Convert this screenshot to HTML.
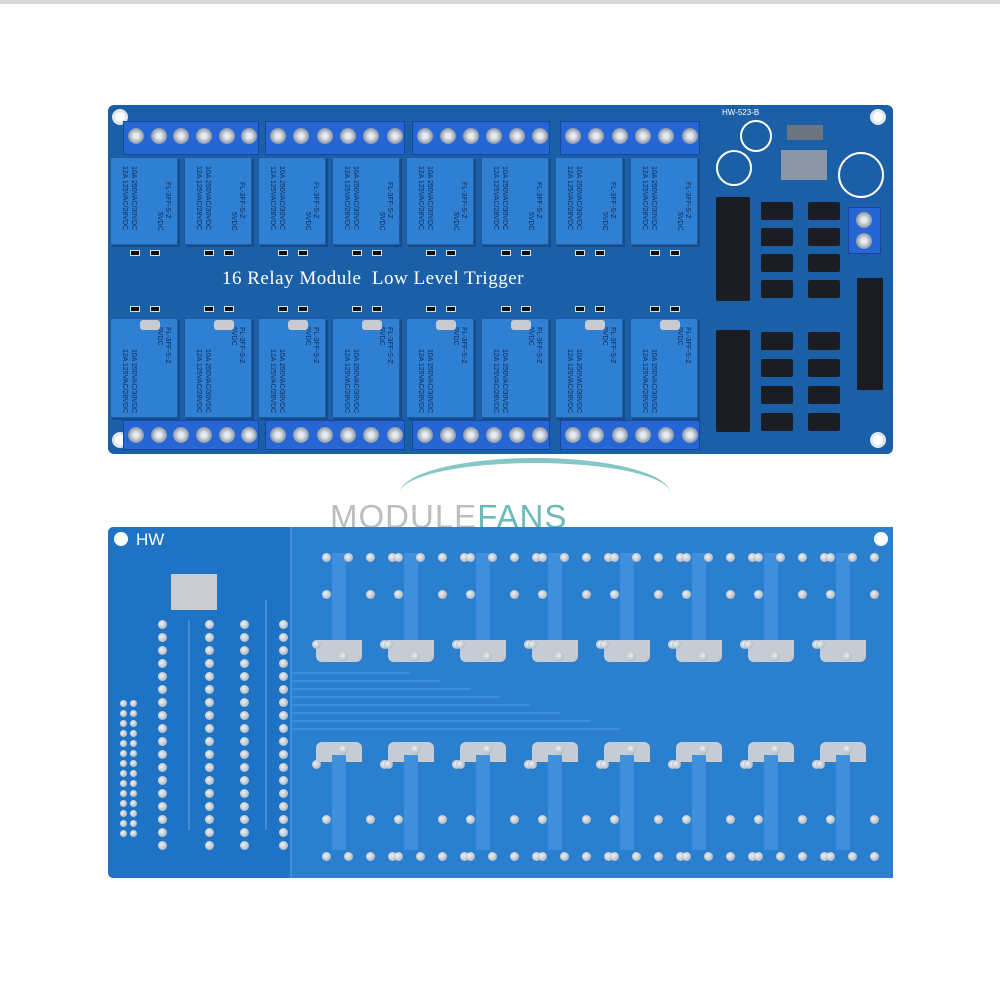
<!DOCTYPE html>
<html><head><meta charset="utf-8"><style>
*{margin:0;padding:0;box-sizing:border-box}
body{width:1000px;height:1000px;background:#fff;position:relative;overflow:hidden;font-family:"Liberation Sans",sans-serif}
.a{position:absolute}
.relay{position:absolute;width:68px;background:#2f7fd2;border:1px solid #1d5aa0;box-shadow:2px 2px 0 #174a86}
.relay span{position:absolute;color:#0e2a55;font-size:7px;white-space:nowrap;transform:rotate(90deg);transform-origin:left top}
.tb{position:absolute;background:#2566d4;border:1px solid #1746a0}
.scr{position:absolute;width:16px;height:16px;border-radius:50%;background:radial-gradient(circle,#e8ecf0 20%,#8a97a8 70%,#3a4660);}
.dot{position:absolute;width:9px;height:9px;border-radius:50%;background:radial-gradient(circle at 40% 40%,#eef1f4,#9aa4b0)}
.ic{position:absolute;background:#1b1d22;border-radius:2px}
.op{position:absolute;background:#1b1d22;width:32px;height:18px;border-radius:2px}
.tr{position:absolute;background:#3f8fdc}
</style></head><body>
<div class="a" style="left:0;top:0;width:1000px;height:4px;background:#d8d8d8"></div>

<div class="a" style="left:108px;top:105px;width:785px;height:349px;background:#1b5fa6;border-radius:6px"></div>
<div class="a" style="left:112px;top:109px;width:16px;height:16px;border-radius:50%;background:#fff;border:3px solid #e0e6ee"></div>
<div class="a" style="left:870px;top:109px;width:16px;height:16px;border-radius:50%;background:#fff;border:3px solid #e0e6ee"></div>
<div class="a" style="left:870px;top:432px;width:16px;height:16px;border-radius:50%;background:#fff;border:3px solid #e0e6ee"></div>
<div class="a" style="left:112px;top:432px;width:16px;height:16px;border-radius:50%;background:#fff;border:3px solid #e0e6ee"></div>
<div class="a" style="left:222px;top:268px;color:#fff;font-size:19px;letter-spacing:0.5px;font-family:'Liberation Serif',serif">16 Relay Module &nbsp;Low Level Trigger</div>
<div class="a" style="left:722px;top:108px;color:#fff;font-size:8px">HW-523-B</div>
<div id="top"></div>

<div class="a" style="left:400px;top:458px;width:270px;height:70px;border-radius:50%;border-top:5px solid #86c7c6;"></div>
<div class="a" style="left:330px;top:498px;color:#bdbdbd;font-size:33px;letter-spacing:1px">MODULE<span style="color:#6bbab8">FANS</span></div>

<div class="a" style="left:108px;top:527px;width:785px;height:351px;background:#1f73c5;border-radius:5px"></div>
<div class="a" style="left:290px;top:527px;width:603px;height:351px;background:#2a7fce;border-left:2px solid #3d8fdb"></div>
<div class="a" style="left:114px;top:532px;width:14px;height:14px;border-radius:50%;background:#fff"></div>
<div class="a" style="left:874px;top:532px;width:14px;height:14px;border-radius:50%;background:#fff"></div>
<div class="a" style="left:136px;top:530px;color:#fff;font-size:17px">HW</div>
<div class="a" style="left:171px;top:574px;width:46px;height:36px;background:#c9cdd3"></div>
<div id="bot"></div>
<script>
var t=document.getElementById('top'),h='';
var xs=[110,184,258,332,406,481,555,630];
for(var i=0;i<8;i++){
 h+='<div class="relay" style="left:'+xs[i]+'px;top:157px;height:88px"><span style="left:26px;top:8px">10A 250VAC/30VDC</span><span style="left:17px;top:8px">12A 125VAC/28VDC</span><span style="left:60px;top:24px">FL-3FF-S-Z</span><span style="left:52px;top:54px">5VDC</span></div>';
 h+='<div class="relay" style="left:'+xs[i]+'px;top:318px;height:100px"><span style="left:26px;top:30px">10A 250VAC/30VDC</span><span style="left:17px;top:30px">12A 125VAC/28VDC</span><span style="left:60px;top:8px">FL-3FF-S-Z</span><span style="left:52px;top:8px">5VDC</span></div>';
 h+='<div class="a" style="left:'+(xs[i]+20)+'px;top:250px;width:10px;height:6px;background:#111;border:1px solid #ddd"></div><div class="a" style="left:'+(xs[i]+40)+'px;top:250px;width:10px;height:6px;background:#111;border:1px solid #ddd"></div>';
 h+='<div class="a" style="left:'+(xs[i]+30)+'px;top:320px;width:20px;height:10px;background:#c8ccd2;border-radius:3px"></div>';
 h+='<div class="a" style="left:'+(xs[i]+20)+'px;top:306px;width:10px;height:6px;background:#111;border:1px solid #ddd"></div><div class="a" style="left:'+(xs[i]+40)+'px;top:306px;width:10px;height:6px;background:#111;border:1px solid #ddd"></div>';
}
var tbs=[[123,136],[265,140],[412,138],[560,140]];
tbs.forEach(function(b){
 h+='<div class="tb" style="left:'+b[0]+'px;top:121px;width:'+b[1]+'px;height:34px"></div>';
 h+='<div class="tb" style="left:'+b[0]+'px;top:420px;width:'+b[1]+'px;height:30px"></div>';
 for(var k=0;k<6;k++){var x=b[0]+5+k*b[1]/6;
  h+='<div class="scr" style="left:'+x+'px;top:128px"></div><div class="scr" style="left:'+x+'px;top:427px"></div>';}
});
h+='<div class="ic" style="left:716px;top:197px;width:34px;height:104px"></div><div class="ic" style="left:716px;top:330px;width:34px;height:102px"></div>';
for(var r=0;r<4;r++){[761,808].forEach(function(x){
 h+='<div class="op" style="left:'+x+'px;top:'+(202+r*26)+'px"></div><div class="op" style="left:'+x+'px;top:'+(332+r*27)+'px"></div>';});}
h+='<div class="a" style="left:857px;top:278px;width:26px;height:112px;background:#1b1d22"></div>';
h+='<div class="tb" style="left:848px;top:207px;width:33px;height:47px"></div><div class="scr" style="left:856px;top:212px"></div><div class="scr" style="left:856px;top:233px"></div>';
h+='<div class="a" style="left:740px;top:120px;width:32px;height:32px;border-radius:50%;border:2px solid #fff"></div>';
h+='<div class="a" style="left:716px;top:150px;width:36px;height:36px;border-radius:50%;border:2px solid #fff"></div>';
h+='<div class="a" style="left:838px;top:152px;width:46px;height:46px;border-radius:50%;border:2px solid #fff"></div>';
h+='<div class="a" style="left:781px;top:150px;width:46px;height:30px;background:#8d96a6"></div>';
h+='<div class="a" style="left:787px;top:125px;width:36px;height:15px;background:#6c7480"></div>';
t.innerHTML=h;
var b=document.getElementById('bot'),g='';
var cx=[322,394,466,538,610,682,754,826];
for(var i=0;i<8;i++){var x=cx[i];
 g+='<div class="tr" style="left:'+(x+10)+'px;top:553px;width:14px;height:100px"></div>';
 g+='<div class="tr" style="left:'+(x-6)+'px;top:640px;width:46px;height:22px;border-radius:0 0 6px 6px;background:#c6ccd4"></div>';
 g+='<div class="tr" style="left:'+(x-6)+'px;top:742px;width:46px;height:20px;background:#c6ccd4;border-radius:6px 6px 0 0"></div>';
 g+='<div class="tr" style="left:'+(x+10)+'px;top:755px;width:14px;height:95px"></div>';
 var pts=[[0,553],[22,553],[44,553],[0,590],[44,590],[-10,640],[17,652],[-10,760],[17,745],[0,815],[44,815],[0,852],[22,852],[44,852]];
 if(i<7){pts.push([66,553],[66,852],[58,640],[58,760]);}
 pts.forEach(function(p){
  g+='<div class="dot" style="left:'+(x+p[0])+'px;top:'+p[1]+'px"></div>';});
}
for(var k=0;k<8;k++){g+='<div class="tr" style="left:290px;top:'+(672+k*8)+'px;width:'+(120+k*30)+'px;height:2px"></div>';}
for(var r=0;r<18;r++){[158,205,240,279].forEach(function(x){g+='<div class="dot" style="left:'+x+'px;top:'+(620+r*13)+'px"></div>';});}
for(var r=0;r<14;r++){[120,130].forEach(function(x){g+='<div class="dot" style="left:'+x+'px;top:'+(700+r*10)+'px;width:7px;height:7px"></div>';});}
g+='<div class="tr" style="left:188px;top:620px;width:2px;height:210px"></div><div class="tr" style="left:265px;top:600px;width:2px;height:230px"></div>';
b.innerHTML=g;
</script>
</body></html>
